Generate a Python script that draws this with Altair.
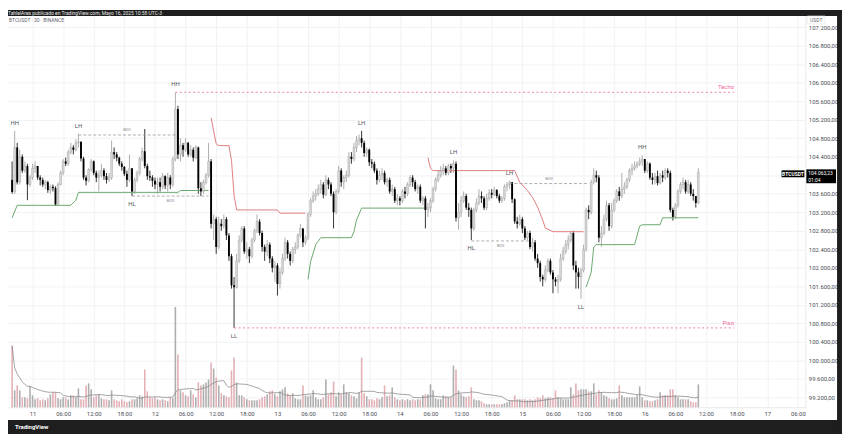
import altair as alt
import pandas as pd

# ---------------- data ----------------
start_index = -8            # candle index 0 = May 11 00:00 (30-minute candles)
first_open = 103900
closes = [
    103640, 104600, 103850, 104400, 104100, 104200, 103800, 103950, 104150, 104200,
    103950, 103900, 103800, 103850, 103680, 103750, 103720, 103370, 103800, 104050,
    104300, 104250, 104500, 104600, 104550, 104700, 104720, 104360, 103950, 103880,
    104120, 104300, 104050, 103950, 104000, 104100, 103980, 103900, 103950, 104500,
    104450, 104380, 104250, 104180, 104030, 103900, 104150, 103650, 103900, 104050,
    104350, 104520, 104200, 103980, 103950, 103880, 103800, 103850, 103750, 103980,
    103780, 103950, 103800, 104350, 105430, 104450, 104650, 104550, 104700, 104450,
    104550, 104380, 104600, 103720, 103650, 103850, 104000, 104300, 102950, 103050,
    102450, 102950, 102900, 103050, 102700, 102250, 101620, 101580, 102150, 102600,
    102850, 102350, 102400, 102250, 102600, 102800, 103000, 102750, 102450, 102350,
    102500, 102200, 102000, 102050, 101650, 101900, 102200, 102550, 102300, 102150,
    102400, 102450, 102700, 102850, 102550, 102650, 103150, 103450, 103550, 103600,
    103700, 103800, 103580, 103900, 103800, 103600, 103200, 103650, 104100, 103850,
    103950, 104000, 104400, 104350, 104600, 104750, 104800, 104700, 104480, 104550,
    104280, 104250, 104100, 103900, 104000, 104050, 103850, 103900, 103650, 103700,
    103450, 103500, 103450, 103650, 103600, 103800, 103950, 103850, 103700, 103750,
    103450, 103500, 103250, 103300, 103450, 103700, 103900, 104000, 104100, 104150,
    104050, 104200, 104150, 104250, 103080, 103200, 103450, 103550, 103300, 103250,
    102850, 103250, 103400, 103550, 103500, 103300, 103500, 103620, 103580, 103680,
    103550, 103450, 103500, 103750, 103800, 103850, 103480, 103000, 102950, 103050,
    102850, 102650, 102750, 102450, 102550, 102200, 102100, 101800, 101750, 101950,
    102150, 101900, 101750, 101700, 101750, 102200, 102350, 102500, 102600, 102750,
    102050, 101900, 101800, 101950, 102400, 103250, 103200, 103850, 104000, 103950,
    102650, 102750, 103050, 103350, 102900, 103250, 103450, 103650, 103550, 103700,
    103750, 103900, 104100, 104150, 104200, 104250, 104300, 104350, 104100, 104250,
    103950, 103900, 103980, 103830, 104000, 103950, 104100, 104050, 103250, 103100,
    103350, 103650, 103800, 103850, 103650, 103800, 103600, 103550, 103400, 104063.23,
]
highs = [
    104300, 104960, 104700, 104550, 104450, 104300, 104250, 104000, 104250, 104300,
    104200, 104000, 103950, 103900, 103880, 103800, 103800, 103760, 103850, 104100,
    104350, 104380, 104550, 104700, 104650, 104780, 104900, 104740, 104400, 104000,
    104150, 104350, 104320, 104100, 104100, 104250, 104150, 104050, 104050, 104750,
    104600, 104500, 104400, 104300, 104200, 104100, 104450, 104150, 103950, 104100,
    104400, 104600, 105000, 104250, 104100, 104000, 103950, 103950, 103950, 104050,
    104000, 104050, 104000, 104400, 105790, 105500, 104800, 104700, 104800, 104720,
    104650, 104600, 104650, 104620, 103850, 103900, 104050, 104700, 104350, 103150,
    103100, 103100, 103050, 103150, 103100, 102750, 102300, 101800, 102300, 102700,
    102900, 102900, 102550, 102450, 102650, 102850, 103150, 103050, 102800, 102500,
    102600, 102550, 102250, 102150, 102100, 102000, 102300, 102650, 102600, 102350,
    102450, 102550, 102750, 102950, 102850, 102700, 103200, 103500, 103650, 103700,
    103800, 103900, 103850, 104000, 103950, 103850, 103650, 103700, 104200, 104150,
    104000, 104100, 104500, 104500, 104700, 104850, 104880, 104960, 104750, 104600,
    104580, 104350, 104300, 104150, 104100, 104150, 104100, 103950, 103950, 103800,
    103750, 103600, 103550, 103700, 103750, 103850, 104000, 104000, 103900, 103800,
    103800, 103550, 103550, 103400, 103500, 103750, 103950, 104100, 104200, 104250,
    104200, 104250, 104250, 104320, 104300, 103400, 103550, 103650, 103600, 103400,
    103300, 103300, 103500, 103700, 103650, 103550, 103600, 103700, 103700, 103750,
    103700, 103600, 103550, 103800, 103850, 103880, 103850, 103500, 103100, 103150,
    103100, 102900, 102800, 102800, 102650, 102600, 102300, 102150, 101850, 102050,
    102200, 102200, 101950, 101800, 101850, 102300, 102450, 102600, 102700, 102800,
    102800, 102150, 102000, 102000, 102500, 103300, 103350, 103900, 104150, 104100,
    104000, 102900, 103150, 103450, 103400, 103400, 103500, 103700, 103750, 104050,
    103850, 103950, 104150, 104250, 104300, 104300, 104380, 104430, 104350, 104300,
    104280, 104050, 104050, 104100, 104050, 104100, 104150, 104150, 104100, 103300,
    103400, 103700, 103850, 103950, 103900, 103900, 103850, 103700, 103550, 104150,
]
lows = [
    103600, 103600, 103800, 103800, 104050, 104050, 103460, 103750, 103900, 104050,
    103900, 103780, 103750, 103700, 103620, 103600, 103650, 103340, 103340, 103780,
    104000, 104200, 104200, 104450, 104450, 104520, 104600, 104300, 103900, 103780,
    103850, 104080, 104000, 103850, 103650, 103950, 103900, 103820, 103850, 103900,
    104350, 104300, 104200, 104100, 103980, 103750, 103850, 103550, 103600, 103850,
    104000, 104300, 104150, 103900, 103880, 103750, 103700, 103600, 103650, 103700,
    103700, 103650, 103700, 103750, 104300, 104350, 104300, 104400, 104500, 104400,
    104400, 104300, 104350, 103600, 103550, 103600, 103800, 103950, 102850, 102600,
    102300, 102400, 102800, 102850, 102600, 102150, 101550, 100700, 101550, 102100,
    102550, 102300, 102200, 102100, 102200, 102550, 102750, 102700, 102350, 102150,
    102250, 102100, 101900, 101700, 101400, 101550, 101850, 102150, 102200, 102050,
    102100, 102300, 102400, 102650, 102450, 102500, 102600, 103100, 103400, 103450,
    103550, 103600, 103500, 103550, 103700, 103550, 102850, 103150, 103600, 103750,
    103700, 103850, 103950, 104250, 104300, 104500, 104650, 104600, 104400, 104400,
    104200, 104150, 104050, 103800, 103850, 103900, 103800, 103750, 103600, 103550,
    103400, 103350, 103350, 103400, 103500, 103550, 103750, 103750, 103650, 103600,
    103400, 103350, 102850, 103100, 103200, 103400, 103650, 103850, 103950, 104000,
    104000, 104000, 104050, 104050, 103000, 102820, 103100, 103400, 103250, 103100,
    102600, 102800, 103200, 103350, 103400, 103250, 103250, 103450, 103500, 103550,
    103500, 103400, 103400, 103450, 103650, 103700, 103400, 102950, 102850, 102900,
    102750, 102600, 102600, 102400, 102350, 102150, 102000, 101700, 101600, 101700,
    101900, 101850, 101450, 101600, 101450, 101700, 102150, 102300, 102400, 102550,
    101950, 101550, 101550, 101330, 101900, 102350, 103050, 103150, 103800, 103850,
    102550, 102450, 102700, 103000, 102800, 102850, 103200, 103400, 103450, 103500,
    103600, 103700, 103850, 104000, 104100, 104150, 104200, 104200, 104050, 104050,
    103900, 103800, 103800, 103780, 103800, 103850, 103900, 103950, 103200, 103020,
    103050, 103300, 103600, 103700, 103600, 103600, 103550, 103450, 103300, 103380,
]
volumes = [
    4650, 1275, 1650, 1275, 750, 750, 675, 1575, 900, 600,
    675, 525, 600, 525, 675, 975, 1125, 1125, 675, 600,
    750, 750, 600, 900, 900, 750, 1425, 600, 600, 1650,
    1800, 1350, 750, 900, 975, 675, 600, 600, 525, 1275,
    600, 525, 450, 600, 450, 375, 450, 600, 600, 675,
    900, 825, 2850, 1200, 750, 675, 750, 600, 525, 600,
    525, 450, 750, 675, 7575, 3975, 1275, 1125, 900, 825,
    1275, 975, 750, 1875, 1650, 1725, 1875, 2100, 3375, 2925,
    2250, 1650, 1050, 900, 825, 750, 2775, 3750, 1875, 900,
    900, 750, 600, 525, 525, 525, 525, 600, 750, 825,
    975, 1200, 1275, 975, 825, 1200, 1350, 1500, 1050, 900,
    1050, 675, 600, 600, 1650, 900, 825, 900, 1275, 750,
    600, 600, 750, 2100, 975, 1125, 1950, 825, 1125, 975,
    1725, 1125, 1050, 900, 825, 675, 1125, 3750, 1050, 825,
    600, 600, 525, 675, 600, 750, 1650, 825, 900, 1500,
    750, 600, 525, 600, 525, 600, 525, 600, 525, 600,
    600, 900, 975, 975, 1725, 1275, 675, 600, 600, 900,
    825, 750, 750, 3150, 2850, 1275, 975, 825, 750, 825,
    1500, 600, 525, 525, 450, 300, 225, 225, 225, 225,
    225, 225, 225, 300, 375, 525, 525, 900, 600, 600,
    600, 600, 525, 600, 525, 600, 750, 675, 900, 675,
    750, 750, 675, 1275, 750, 675, 600, 600, 600, 1500,
    975, 1800, 1275, 1350, 1350, 1350, 1200, 1200, 1800, 975,
    1275, 1125, 900, 825, 675, 600, 600, 675, 1650, 900,
    750, 750, 750, 750, 750, 900, 1575, 750, 525, 525,
    450, 450, 525, 600, 1125, 900, 900, 900, 1350, 1350,
    900, 750, 600, 600, 600, 600, 450, 375, 375, 1725,
]

# trailing support (green) / resistance (red) step lines: (segment, kind, index, price)
sr_seg = ["g1"] * 8 + ["r1"] * 11 + ["g2"] * 9 + ["r2"] * 12 + ["g3"] * 10
sr_kind = ["sup"] * 8 + ["res"] * 11 + ["sup"] * 9 + ["res"] * 12 + ["sup"] * 10
sr_idx = [-8, -6, 15, 17, 18, 57, 58, 69,
          70, 71, 72, 73, 77, 78, 79, 80, 96, 97, 107,
          108, 109, 111, 113, 125, 126, 127, 129, 154,
          155, 156, 157, 189, 191, 194, 196, 198, 200, 201, 204, 216,
          217, 219, 220, 221, 236, 238, 239, 246, 247, 261]
sr_price = [103080, 103350, 103350, 103460, 103630, 103630, 103670, 103670,
            105240, 104960, 104680, 104640, 104640, 104320, 103570, 103250, 103250, 103180, 103180,
            101750, 102130, 102500, 102650, 102650, 102780, 103030, 103290, 103290,
            104380, 104150, 104100, 104100, 103850, 103670, 103520, 103310, 103030, 102860, 102780, 102780,
            101580, 101900, 102450, 102500, 102500, 102900, 102930, 102930, 103080, 103080]

# swing labels
swing_idx = [-7, 18, 39, 56, 79, 129, 165, 172, 187, 215, 239]
swing_price = [104960, 104900, 103550, 105790, 100700, 104960, 104320, 102600, 103880, 101330, 104430]
swing_text = ["HH", "LH", "HL", "HH", "LL", "LH", "LH", "HL", "LH", "LL", "HH"]
swing_pos = ["above", "above", "below", "above", "below", "above", "above", "below", "above", "below", "above"]

# structure (dashed) lines
st_i0 = [18, 39, 172, 187]
st_i1 = [56, 69, 195, 218]
st_price = [104870, 103550, 102580, 103820]
st_text = ["BOS", "BOS", "BOS", "BOS"]
st_pos = ["above", "below", "below", "above"]

# Techo / Piso levels
lv_name = ["Techo", "Piso"]
lv_i0 = [56, 79]
lv_i1 = [275, 275]
lv_price = [105790, 100700]

# axes
time_ticks = [0, 12, 24, 36, 48, 60, 72, 84, 96, 108, 120, 132, 144, 156, 168, 180,
              192, 204, 216, 228, 240, 252, 264, 276, 288, 300]
time_labels = ["11", "06:00", "12:00", "18:00", "12", "06:00", "12:00", "18:00",
               "13", "06:00", "12:00", "18:00", "14", "06:00", "12:00", "18:00",
               "15", "06:00", "12:00", "18:00", "16", "06:00", "12:00", "18:00",
               "17", "06:00"]
price_ticks = [99200, 99600, 100000, 100400, 100800, 101200, 101600, 102000, 102400,
               102800, 103200, 103600, 104000, 104400, 104800, 105200, 105600, 106000,
               106400, 106800, 107200]
# the 104.000,00 label is hidden behind the last-price tag in the reference
price_labels = ["99.200,00", "99.600,00", "100.000,00", "100.400,00", "100.800,00",
                "101.200,00", "101.600,00", "102.000,00", "102.400,00", "102.800,00",
                "103.200,00", "103.600,00", "", "104.400,00", "104.800,00",
                "105.200,00", "105.600,00", "106.000,00", "106.400,00", "106.800,00",
                "107.200,00"]
last_label = "104.063,23"
countdown = "01:04"

# ---------------- build ----------------
idx = list(range(start_index, start_index + len(closes)))
opens = [first_open] + closes[:-1]
df = pd.DataFrame({"i": idx, "o": opens, "c": closes, "h": highs, "l": lows, "v": volumes})

sr_df = pd.DataFrame({"seg": sr_seg, "kind": sr_kind, "i": sr_idx, "p": sr_price})
sw_df = pd.DataFrame({"i": swing_idx, "p": swing_price, "t": swing_text, "pos": swing_pos})
st_df = pd.DataFrame({"i0": st_i0, "i1": st_i1, "p": st_price, "t": st_text, "pos": st_pos})
lv_df = pd.DataFrame({"n": lv_name, "i0": lv_i0, "i1": lv_i1, "p": lv_price})
last_df = pd.DataFrame({"p": [closes[-1]], "t": [last_label], "cd": [countdown]})
one = pd.DataFrame({"k": [0]})

FONT = "Roboto"
XS = alt.Scale(domain=[-7.669, 301.0], nice=False, zero=False)
YS = alt.Scale(domain=[98986, 107571], nice=False, zero=False)
VS = alt.Scale(domain=[0, 30000], nice=False, zero=True)

def expr_lookup(labels, vals):
    return ("[" + ",".join("'%s'" % s for s in labels) + "][indexof([" +
            ",".join(str(v) for v in vals) + "], datum.value)]")

x_axis = alt.Axis(values=time_ticks, labelExpr=expr_lookup(time_labels, time_ticks),
                  title=None, grid=True, gridColor="#f1f2f4", ticks=False,
                  domain=True, domainColor="#e6e8ec", labelFontSize=6, labelFont=FONT,
                  labelColor="#4a4d57", labelPadding=3, labelOverlap=False, labelFlush=False)
y_axis = alt.Axis(orient="right", values=price_ticks,
                  labelExpr=expr_lookup(price_labels, price_ticks),
                  title=None, grid=True, gridColor="#f1f2f4", ticks=False,
                  domain=True, domainColor="#e6e8ec", labelFontSize=6, labelFont=FONT,
                  labelColor="#4a4d57", labelPadding=3, labelAlign="left",
                  labelOverlap=False, labelFlush=False)


def XF(field):
    return alt.X(field, type="quantitative", scale=XS, axis=x_axis)


X = XF("i")
UP = "datum.c >= datum.o"

base = alt.Chart(df)

vol = base.mark_bar(size=1.6).encode(
    x=X, y=alt.Y("v:Q", scale=VS, axis=None),
    color=alt.condition(UP, alt.value("#aeaeae"), alt.value("#e2b0b5")))
vol_ma = base.transform_window(
    vma="mean(v)", frame=[-19, 0], sort=[alt.SortField("i")]
).mark_line(color="#8a8a8a", strokeWidth=0.8).encode(
    x=X, y=alt.Y("vma:Q", scale=VS, axis=None))

sr_lines = alt.Chart(sr_df).mark_line(strokeWidth=1).encode(
    x=X, y=alt.Y("p:Q", scale=YS, axis=None), detail="seg:N",
    color=alt.Color("kind:N", scale=alt.Scale(domain=["sup", "res"],
                                             range=["#6aa86e", "#e07c7c"]), legend=None))

wicks = base.mark_rule(strokeWidth=0.8).encode(
    x=X, y=alt.Y("l:Q", scale=YS, axis=y_axis), y2="h:Q",
    color=alt.condition(UP, alt.value("#999999"), alt.value("#000000")))
body_up = base.transform_filter(UP).mark_bar(
    size=1.9, fill="#d9d9d9", stroke="#999999", strokeWidth=0.4).encode(
    x=X, y=alt.Y("o:Q", scale=YS, axis=None), y2="c:Q")
body_dn = base.transform_filter("datum.c < datum.o").mark_bar(
    size=1.9, fill="#000000").encode(
    x=X, y=alt.Y("o:Q", scale=YS, axis=None), y2="c:Q")

st = alt.Chart(st_df).transform_calculate(i="datum.i0", m="(datum.i0 + datum.i1) / 2")
st_lines = st.mark_rule(strokeDash=[3, 2], color="#9a9a9a", strokeWidth=0.8).encode(
    x=X, x2="i1:Q", y=alt.Y("p:Q", scale=YS, axis=None))
st_up = st.transform_filter("datum.pos == 'above'").mark_text(
    dy=-5, fontSize=4, font=FONT, color="#8a8a8a").encode(
    x=XF("m"), y=alt.Y("p:Q", scale=YS, axis=None), text="t:N")
st_dn = st.transform_filter("datum.pos == 'below'").mark_text(
    dy=5, fontSize=4, font=FONT, color="#8a8a8a").encode(
    x=XF("m"), y=alt.Y("p:Q", scale=YS, axis=None), text="t:N")

lv = alt.Chart(lv_df).transform_calculate(i="datum.i0")
lv_lines = lv.mark_rule(strokeDash=[2, 2.5], color="#f59ab9", strokeWidth=1.2).encode(
    x=X, x2="i1:Q", y=alt.Y("p:Q", scale=YS, axis=None))
lv_text = lv.mark_text(align="right", dy=-5, fontSize=6, font=FONT, color="#f0679a").encode(
    x=XF("i1"), y=alt.Y("p:Q", scale=YS, axis=None), text="n:N")

sw_up = alt.Chart(sw_df).transform_filter("datum.pos == 'above'").mark_text(
    dy=-8, fontSize=6, font=FONT, color="#555862").encode(
    x=X, y=alt.Y("p:Q", scale=YS, axis=None), text="t:N")
sw_dn = alt.Chart(sw_df).transform_filter("datum.pos == 'below'").mark_text(
    dy=8, fontSize=6, font=FONT, color="#555862").encode(
    x=X, y=alt.Y("p:Q", scale=YS, axis=None), text="t:N")

lp = alt.Chart(last_df)
lp_box = lp.mark_rect(color="#000000", yOffset=-3, y2Offset=11).encode(
    x=alt.value(806), x2=alt.value(836),
    y=alt.Y("p:Q", scale=YS, axis=None), y2=alt.Y2("p:Q"))
lp_txt = lp.mark_text(align="left", dy=1, fontSize=5, font=FONT, color="white").encode(
    x=alt.value(808), y=alt.Y("p:Q", scale=YS, axis=None), text="t:N")
lp_cd = lp.mark_text(align="left", dy=7.5, fontSize=5, font=FONT, color="white").encode(
    x=alt.value(808), y=alt.Y("p:Q", scale=YS, axis=None), text="cd:N")
sym_box = lp.mark_rect(color="#000000", yOffset=-2, y2Offset=5).encode(
    x=alt.value(781), x2=alt.value(804),
    y=alt.Y("p:Q", scale=YS, axis=None), y2=alt.Y2("p:Q"))
sym_txt = lp.mark_text(align="center", dy=1.5, fontSize=5, font=FONT, fontWeight="bold",
                       color="white", text="BTCUSDT").encode(
    x=alt.value(792.5), y=alt.Y("p:Q", scale=YS, axis=None))

deco = alt.Chart(one)
DARK = "#1e1e1e"
cover = deco.mark_rect(color="white").encode(
    x=alt.value(806), x2=alt.value(837), y=alt.value(402), y2=alt.value(412))
top_band = deco.mark_rect(color=DARK).encode(
    x=alt.value(0), x2=alt.value(842), y=alt.value(0), y2=alt.value(6))
bot_band = deco.mark_rect(color=DARK).encode(
    x=alt.value(0), x2=alt.value(842), y=alt.value(414), y2=alt.value(428))
right_band = deco.mark_rect(color=DARK).encode(
    x=alt.value(837), x2=alt.value(842), y=alt.value(0), y2=alt.value(428))
hdr = deco.mark_text(align="left", baseline="middle", fontSize=5, font=FONT, color="#e8e8e8",
                     text="TahlelAres publicado en TradingView.com, Mayo 16, 2025 10:58 UTC-3").encode(
    x=alt.value(0), y=alt.value(3))
sym_hdr = deco.mark_text(align="left", baseline="middle", fontSize=5, font=FONT, color="#5f6270",
                         text="BTCUSDT · 30 · BINANCE").encode(x=alt.value(1), y=alt.value(10))
usdt_box = deco.mark_rect(fill="white", stroke="#e0e3eb", strokeWidth=0.6).encode(
    x=alt.value(807), x2=alt.value(825), y=alt.value(6), y2=alt.value(14))
usdt = deco.mark_text(align="center", baseline="middle", fontSize=5, font=FONT, color="#5f6270",
                      text="USDT").encode(x=alt.value(816), y=alt.value(10))
tv_logo = deco.mark_text(align="left", baseline="middle", fontSize=6, font=FONT, fontWeight="bold",
                         color="white", text="TradingView").encode(x=alt.value(7), y=alt.value(421))

chart = alt.layer(
    wicks, vol, vol_ma, sr_lines, body_up, body_dn, st_lines, st_up, st_dn,
    lv_lines, lv_text, sw_up, sw_dn, cover, sym_box, sym_txt, lp_box, lp_txt, lp_cd,
    top_band, bot_band, right_band, hdr, sym_hdr, usdt_box, usdt, tv_logo,
).resolve_scale(y="independent").properties(
    width=805, height=401, background="white",
    autosize=alt.AutoSizeParams(type="none"),
    padding={"left": 0, "top": 0, "right": 37, "bottom": 27},
).configure_view(stroke=None)

chart.save("out.html", embed_options={"renderer": "svg", "actions": False})
